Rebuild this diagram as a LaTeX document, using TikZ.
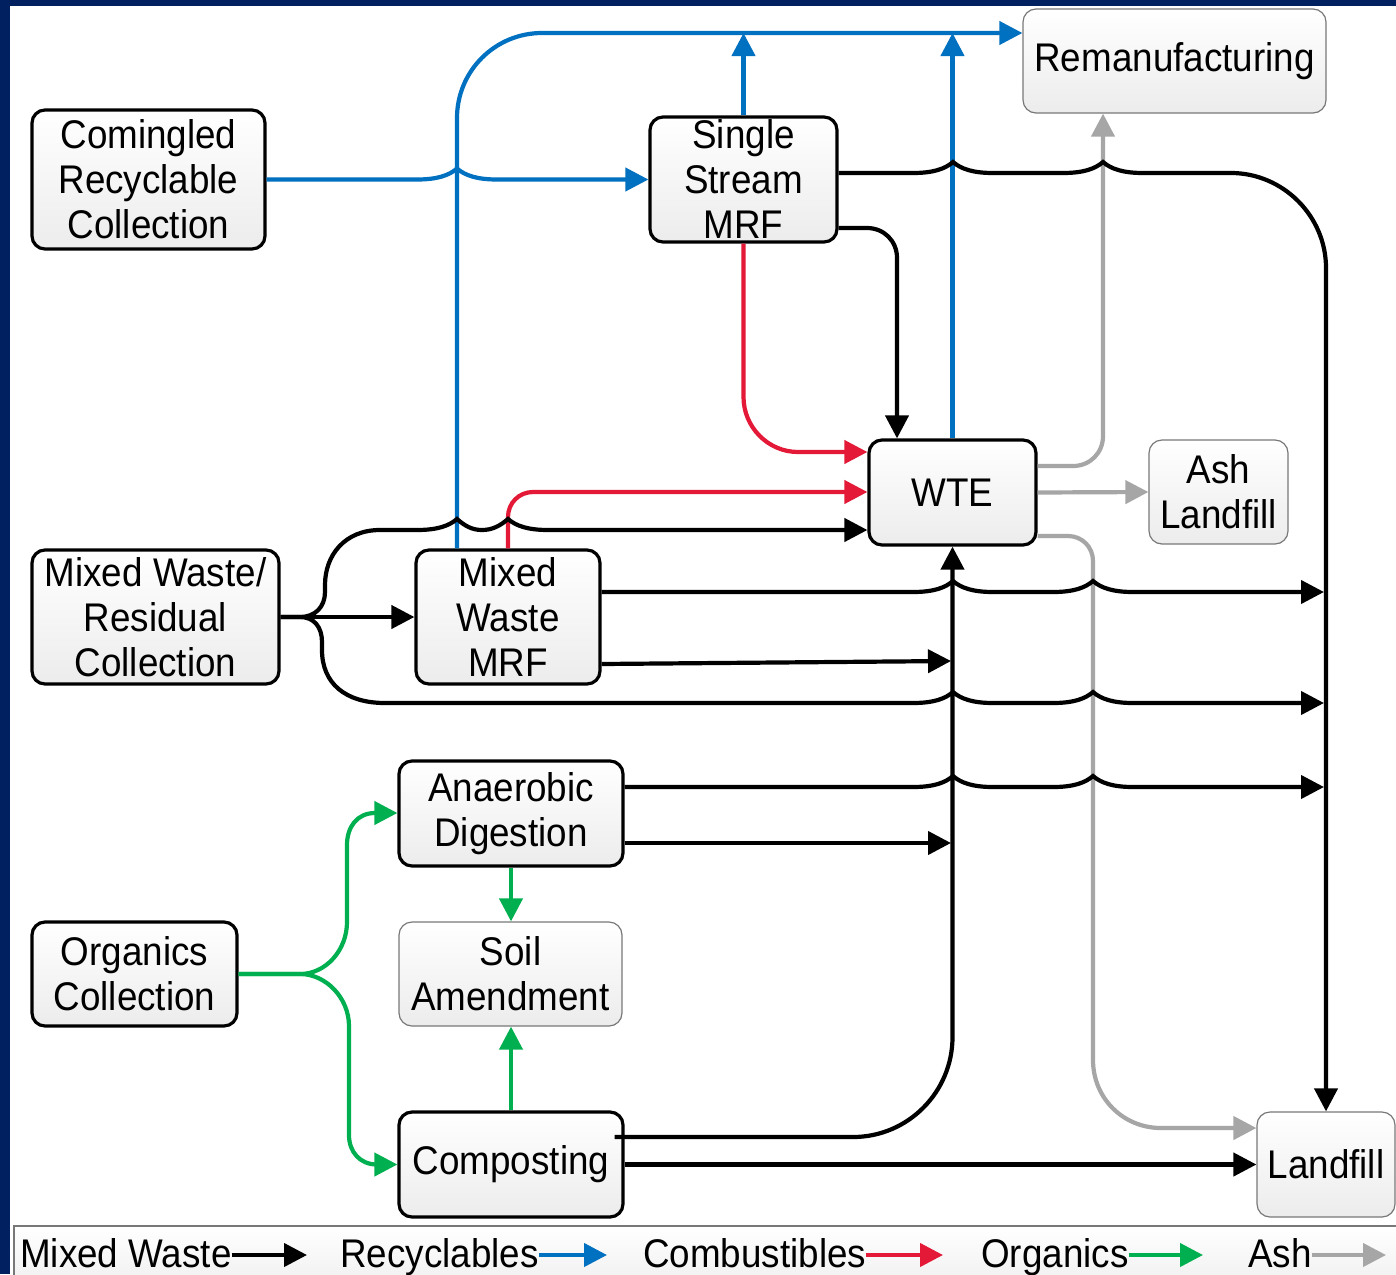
\documentclass[tikz,border=0pt]{standalone}
\usepackage{fontspec}
\setmainfont{Liberation Sans}[FakeStretch=0.92]
\usetikzlibrary{arrows.meta}
\definecolor{navy}{RGB}{0,32,96}
\definecolor{cblue}{RGB}{0,112,192}
\definecolor{cred}{RGB}{227,25,55}
\definecolor{cgreen}{RGB}{0,176,80}
\definecolor{cgrey}{RGB}{166,166,166}
\definecolor{boxbot}{RGB}{236,236,236}
\definecolor{thinborder}{RGB}{120,120,120}
\newcommand\hp{.. controls +(20,0) and +(-8,7) .. ++(40,-11) .. controls +(8,7) and +(-20,0) .. ++(40,11)}
\begin{document}
\begin{tikzpicture}[x=1pt,y=-1pt,
  every node/.style={font=\fontsize{40}{45}\selectfont, inner sep=0pt, align=center},
  procbox/.style={rectangle, rounded corners=13pt, draw=black, line width=3.2pt, top color=white, bottom color=boxbot},
  thinbox/.style={rectangle, rounded corners=13pt, draw=thinborder, line width=1.2pt, top color=white, bottom color=boxbot},
  flowtip/.style={-{Triangle[length=23pt,width=23pt]}},
  mwline/.style={draw=black, line width=4.2pt},
  rcline/.style={draw=cblue, line width=4.2pt},
  cbline/.style={draw=cred, line width=4.2pt},
  ogline/.style={draw=cgreen, line width=4.2pt},
  ashline/.style={draw=cgrey, line width=4.2pt}]
\useasboundingbox (0,0) rectangle (1396,1274);
\fill[navy] (0,0) rectangle (1396,1274);
\fill[white] (10,6) rectangle (1396,1274);

% nodes
\node[procbox, minimum width=233, minimum height=139] (crc) at (148.5,179.5) {Comingled\\Recyclable\\Collection};
\node[procbox, minimum width=187, minimum height=125] (ssm) at (743.5,179.5) {Single\\Stream\\MRF};
\node[thinbox, minimum width=303, minimum height=104] (reman) at (1174.5,61) {Remanufacturing};
\node[procbox, minimum width=167, minimum height=105] (wte) at (952.5,492.5) {WTE};
\node[thinbox, minimum width=139, minimum height=104] (ash) at (1218.5,492) {Ash\\Landfill};
\node[procbox, minimum width=247, minimum height=134] (mwc) at (155.5,617) {Mixed Waste/\\Residual\\Collection};
\node[procbox, minimum width=184, minimum height=134] (mwm) at (508,617) {Mixed\\Waste\\MRF};
\node[procbox, minimum width=224, minimum height=105] (ad) at (511,813.5) {Anaerobic\\Digestion};
\node[thinbox, minimum width=223, minimum height=104] (soil) at (510.5,974) {Soil\\Amendment};
\node[procbox, minimum width=205, minimum height=104] (oc) at (134.5,974) {Organics\\Collection};
\node[procbox, minimum width=224, minimum height=105] (comp) at (511,1164.5) {Composting};
\node[thinbox, minimum width=138, minimum height=105] (land) at (1326,1164.5) {Landfill};

% legend
\draw[draw=thinborder, line width=1.2pt, top color=white, bottom color=boxbot] (14,1226) rectangle (1420,1300);
\node[anchor=base west] (lgmw) at (20,1267) {Mixed Waste};
\node[anchor=base west] (lgrc) at (340,1267) {Recyclables};
\node[anchor=base west] (lgcb) at (643,1267) {Combustibles};
\node[anchor=base west] (lgog) at (981,1267) {Organics};
\node[anchor=base west] (lgash) at (1248,1267) {Ash};
\coordinate (lgmwe) at (307,1255);
\coordinate (lgrce) at (607,1255);
\coordinate (lgcbe) at (943,1255);
\coordinate (lgoge) at (1203,1255);
\coordinate (lgashe) at (1386,1255);
\draw[mwline, flowtip] (lgmw.east |- lgmwe) -- (lgmwe);
\draw[rcline, flowtip] (lgrc.east |- lgrce) -- (lgrce);
\draw[cbline, flowtip] (lgcb.east |- lgcbe) -- (lgcbe);
\draw[ogline, flowtip] (lgog.east |- lgoge) -- (lgoge);
\draw[ashline, flowtip] (lgash.east |- lgashe) -- (lgashe);

% end points on vertical lines
\coordinate (v592) at (1324,592);
\coordinate (v703) at (1324,703);
\coordinate (v787) at (1324,787);
\coordinate (w661) at (951,661);
\coordinate (w843) at (951,843);
\coordinate (top33) at (743.5,33);
\coordinate (topw33) at (952.5,33);

% grey (ash)
\draw[ashline, flowtip] (wte.east |- 0,466) -- (1073,466) .. controls (1090,466) and (1103,453) .. (1103,436) -- (1103,0 |- reman.south);
\draw[ashline, flowtip] (wte.east) -- (ash.west);
\draw[ashline, flowtip] (wte.east |- 0,536) -- (1068,536) .. controls (1082,536) and (1093,547) .. (1093,561) -- (1093,1060) .. controls (1093,1098) and (1123,1128) .. (1161,1128) -- (land.west |- 0,1128);

% blue (recyclables)
\draw[rcline, flowtip] (crc.east) -- (417,179.5) \hp -- (ssm.west);
\draw[rcline, flowtip] (457,0 |- mwm.north) -- (457,118) .. controls (457,71) and (495,33) .. (542,33) -- (reman.west |- 0,33);
\draw[rcline, flowtip] (ssm.north) -- (top33);
\draw[rcline, flowtip] (wte.north) -- (topw33);

% red (combustibles)
\draw[cbline, flowtip] (ssm.south) -- (743.5,397) .. controls (743.5,427) and (768,452) .. (798,452) -- (wte.west |- 0,452);
\draw[cbline, flowtip] (mwm.north) -- (508,517) .. controls (508,503) and (519,492) .. (533,492) -- (wte.west |- 0,492);

% black (mixed waste)
\draw[mwline, flowtip] (ssm.east |- 0,173) -- (913,173) \hp -- (1063,173) \hp -- (1231,173) .. controls (1283,173) and (1326,216) .. (1326,268) -- (land.north);
\draw[mwline, flowtip] (ssm.east |- 0,228) -- (867,228) .. controls (884,228) and (897,241) .. (897,258) -- (897,0 |- wte.north);
\draw[mwline, flowtip] (mwc.east) -- (mwm.west);
\draw[mwline, flowtip] (mwc.east) -- (300,617) .. controls (315,617) and (325,607) .. (325,592) -- (325,585) .. controls (325,555) and (345,530) .. (380,530) -- (417,530)
  .. controls (437,530) and (449,526) .. (457,519) .. controls (465,526) and (472,530) .. (482,530)
  .. controls (492,530) and (500,526) .. (508,519) .. controls (516,526) and (528,530) .. (548,530)
  -- (wte.west |- 0,530);
\draw[mwline, flowtip] (mwc.east) -- (300,617) .. controls (314,617) and (322,627) .. (322,642) -- (322,650) .. controls (322,683) and (345,703) .. (385,703) -- (913,703) \hp -- (1053,703) \hp -- (v703);
\draw[mwline, flowtip] (mwm.east |- v592) -- (913,592) \hp -- (1053,592) \hp -- (v592);
\draw[mwline, flowtip] (mwm.east |- 0,664) -- (w661);
\draw[mwline, flowtip] (ad.east |- v787) -- (913,787) \hp -- (1053,787) \hp -- (v787);
\draw[mwline, flowtip] (ad.east |- w843) -- (w843);
\draw[mwline, flowtip] ([xshift=-10pt]comp.east |- 0,1137) -- (853,1137) .. controls (908,1137) and (952.5,1092) .. (952.5,1037) -- (wte.south);
\draw[mwline, flowtip] (comp.east) -- (land.west);

% green (organics)
\draw[ogline, flowtip] (oc.east) -- (300,974) .. controls (326,974) and (347,950) .. (347,922) -- (347,845) .. controls (347,827) and (357,813) .. (375,813) -- (ad.west |- 0,813);
\draw[ogline, flowtip] (oc.east) -- (300,974) .. controls (326,974) and (349,998) .. (349,1026) -- (349,1135) .. controls (349,1152) and (360,1164.5) .. (377,1164.5) -- (comp.west);
\draw[ogline, flowtip] (ad.south) -- (ad.south |- soil.north);
\draw[ogline, flowtip] (comp.north) -- (comp.north |- soil.south);
\end{tikzpicture}
\end{document}
